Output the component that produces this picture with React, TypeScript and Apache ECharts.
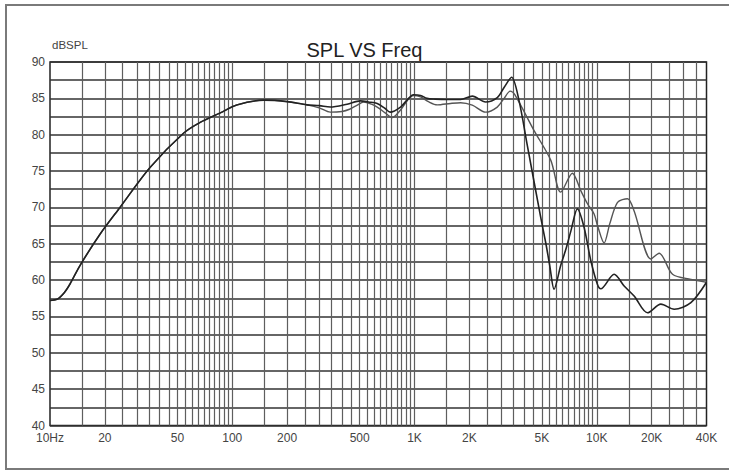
import React, { useEffect, useRef } from "react";
import * as echarts from "echarts";

// Shared low-frequency response (both curves coincide)
const lowFreq = [10, 11, 12, 12.9, 14.6, 18.8, 24.2, 35.4, 54, 66.7, 86, 106, 149, 200, 257];
const lowSpl = [57.2, 57.4, 58.3, 59.5, 62.0, 66.3, 70.0, 75.5, 80.2, 81.7, 83.0, 84.1, 84.75, 84.55, 84.1];

// Curve A (upper at high frequency)
const freqA = [300, 345, 400, 440, 480, 527, 580, 624, 690, 754, 838, 920, 985, 1080, 1200, 1333, 1577, 1790, 2075, 2455, 2845, 3100, 3350, 3550, 4520, 5590, 6340, 7350, 8170, 8890, 9670, 10090, 10970, 11800, 13000, 14750, 16030, 19820, 21990, 26040, 32840, 40000];
const splA = [83.7, 83.1, 83.2, 83.5, 84.0, 84.5, 84.2, 83.8, 83.0, 82.35, 83.4, 84.8, 85.4, 85.2, 84.5, 84.1, 84.3, 84.4, 84.06, 83.1, 83.8, 85.0, 86.0, 85.5, 80.6, 76.5, 72.1, 74.7, 72.3, 70.5, 69.1, 67.5, 65.1, 67.8, 70.7, 71.2, 69.5, 62.9, 63.7, 60.8, 60.1, 59.7];

// Curve B (lower at high frequency)
const freqB = [300, 345, 427, 505, 560, 624, 690, 735, 838, 920, 985, 1080, 1170, 1300, 1510, 1790, 2075, 2455, 2845, 3100, 3410, 3740, 4160, 4920, 5260, 5520, 5830, 6340, 6780, 7200, 7830, 8510, 9270, 10090, 10520, 12450, 14130, 16030, 18990, 22480, 26600, 32840, 40000];
const splB = [84.0, 83.8, 84.2, 84.65, 84.5, 84.3, 83.6, 83.1, 83.8, 84.9, 85.5, 85.4, 85.0, 84.9, 84.85, 84.85, 85.3, 84.5, 85.1, 86.5, 87.9, 84.75, 78.5, 68.7, 65.0, 62.0, 58.75, 62.0, 64.3, 66.7, 69.8, 67.3, 62.7, 59.4, 58.8, 60.8, 59.2, 57.8, 55.5, 56.7, 56.0, 56.9, 59.7];

// Grid & tick labels
const gridFreqs = [
  15, 20, 25, 30, 35, 40, 45, 50, 55, 60, 65, 70, 75, 80, 85, 90, 95, 100,
  150, 200, 250, 300, 350, 400, 450, 500, 550, 600, 650, 700, 750, 800, 850, 900, 950, 1000,
  1500, 2000, 2500, 3000, 3500, 4000, 4500, 5000, 5500, 6000, 6500, 7000, 7500, 8000, 8500, 9000, 9500, 10000,
  15000, 20000, 25000, 30000, 35000,
];
const labelFreqs = [10, 20, 50, 100, 200, 500, 1000, 2000, 5000, 10000, 20000, 40000];

const titleText = "SPL VS Freq";
const yName = "dBSPL";

function fmtFreq(v: number): string {
  if (v === 10) return "10Hz";
  if (v >= 1000) return Math.round(v / 1000) + "K";
  return String(Math.round(v));
}

export default function App() {
  const ref = useRef<HTMLDivElement>(null);
  useEffect(() => {
    document.body.style.margin = "0";
    if (!ref.current) return;
    const chart = echarts.init(ref.current, null, { renderer: "svg" });
    const dataA = lowFreq.map((f, i) => [f, lowSpl[i]]).concat(freqA.map((f, i) => [f, splA[i]]));
    const dataB = lowFreq.map((f, i) => [f, lowSpl[i]]).concat(freqB.map((f, i) => [f, splB[i]]));
    const font = "Liberation Sans, Arial, sans-serif";
    chart.setOption({
      animation: false,
      backgroundColor: "#fff",
      title: {
        text: titleText,
        left: "center",
        top: 35,
        textStyle: { fontSize: 20, fontWeight: "normal", color: "#222", fontFamily: font },
      },
      graphic: [
        {
          type: "rect",
          silent: true,
          shape: { x: 6, y: 5, width: 740, height: 464 },
          style: { fill: "none", stroke: "#7a7a7a", lineWidth: 2 },
        },
      ],
      grid: {
        left: 50,
        top: 62,
        width: 656.5,
        height: 363.5,
        show: true,
        borderColor: "#222",
        borderWidth: 1.5,
        backgroundColor: "transparent",
      },
      xAxis: {
        type: "log",
        logBase: 10,
        min: 10,
        max: 40000,
        axisLine: { show: false },
        axisTick: { show: false, customValues: gridFreqs },
        splitLine: { show: true, lineStyle: { color: "#5e5e5e", width: 1.2 } },
        minorTick: { show: false },
        minorSplitLine: { show: false },
        axisLabel: {
          customValues: labelFreqs,
          formatter: (v: number) => fmtFreq(v),
          color: "#444",
          fontSize: 12,
          margin: 6.5,
          fontFamily: font,
        },
      },
      yAxis: {
        type: "value",
        min: 40,
        max: 90,
        interval: 2.5,
        name: yName,
        nameLocation: "end",
        nameGap: 11,
        nameTextStyle: { align: "left", fontSize: 11.5, color: "#444", fontFamily: font, padding: [0, 0, 0, 2] },
        axisLine: { show: false },
        axisTick: { show: false },
        splitLine: { show: true, lineStyle: { color: "#333", width: 1.5 } },
        axisLabel: {
          formatter: (v: number) => (v % 5 === 0 ? String(v) : ""),
          color: "#444",
          fontSize: 12,
          margin: 5,
          padding: [0, 0, 3, 0],
          fontFamily: font,
        },
      },
      series: [
        {
          type: "line",
          data: dataA,
          showSymbol: false,
          smooth: 0.3,
          lineStyle: { color: "#555", width: 1.4 },
          z: 3,
        },
        {
          type: "line",
          data: dataB,
          showSymbol: false,
          smooth: 0.3,
          lineStyle: { color: "#222", width: 1.6 },
          z: 4,
        },
      ],
    });
    return () => chart.dispose();
  }, []);
  return <div ref={ref} style={{ width: 729, height: 472 }} />;
}
